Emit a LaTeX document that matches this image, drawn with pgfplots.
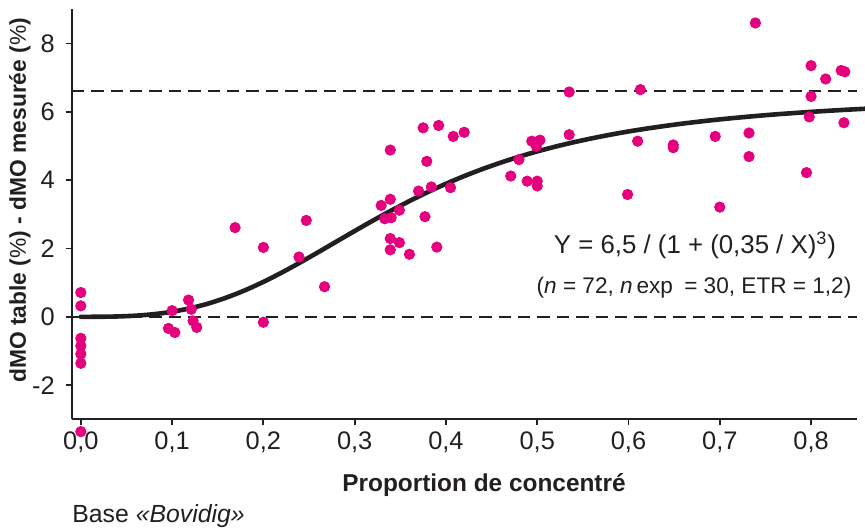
\documentclass[border=0pt]{standalone}
\usepackage{fontspec}
\setmainfont{Liberation Sans}
\usepackage{pgfplots}
\pgfplotsset{compat=1.18}
\usepackage{pgfplotstable}
\definecolor{dotpink}{HTML}{E5007D}
\definecolor{inkdark}{HTML}{231F20}

% measured points: proportion of concentrate vs. dMO difference
\pgfplotstableread{
x y
0 0.71
0 0.32
0 -0.63
0 -0.85
0 -1.09
0 -1.36
0 -3.36
0.100 0.18
0.096 -0.34
0.103 -0.46
0.118 0.49
0.121 0.22
0.123 -0.12
0.127 -0.31
0.169 2.61
0.200 2.03
0.200 -0.16
0.247 2.82
0.239 1.75
0.267 0.88
0.339 4.88
0.375 5.53
0.392 5.60
0.408 5.28
0.420 5.40
0.379 4.55
0.329 3.26
0.339 3.44
0.333 2.87
0.340 2.90
0.349 3.12
0.370 3.68
0.384 3.80
0.405 3.78
0.377 2.93
0.339 2.29
0.349 2.17
0.339 1.96
0.360 1.83
0.390 2.04
0.471 4.12
0.480 4.60
0.489 3.97
0.500 3.97
0.500 3.83
0.494 5.14
0.503 5.17
0.499 4.99
0.535 6.58
0.535 5.33
0.599 3.58
0.610 5.14
0.613 6.65
0.649 5.03
0.649 4.95
0.695 5.28
0.700 3.21
0.732 5.38
0.732 4.69
0.739 8.60
0.795 4.22
0.800 7.35
0.800 6.45
0.798 5.85
0.816 6.96
0.833 7.21
0.837 7.17
0.836 5.68
}\points

% fitted curve Y = 6,5 / (1 + (0,35/X)^3), tabulated
\pgfplotstableread{
x y
0.00 0.000
0.02 0.001
0.04 0.010
0.06 0.033
0.08 0.077
0.10 0.148
0.12 0.252
0.14 0.391
0.16 0.567
0.18 0.778
0.20 1.022
0.22 1.293
0.24 1.585
0.26 1.890
0.28 2.201
0.30 2.511
0.32 2.816
0.34 3.109
0.36 3.387
0.38 3.649
0.40 3.893
0.42 4.118
0.44 4.324
0.46 4.512
0.48 4.684
0.50 4.840
0.52 4.981
0.54 5.109
0.56 5.224
0.58 5.329
0.60 5.424
0.62 5.509
0.64 5.586
0.66 5.657
0.68 5.720
0.70 5.778
0.72 5.830
0.74 5.878
0.76 5.922
0.78 5.961
0.80 5.998
0.82 6.031
0.84 6.062
0.86 6.090
}\fit

\begin{document}
\begin{tikzpicture}
\begin{axis}[
    scale only axis,
    width=392.5pt, height=205pt,
    xmin=-0.01, xmax=0.85,
    ymin=-3, ymax=9,
    axis lines=left,
    axis line style={-, draw=inkdark, line width=0.9pt},
    tick style={draw=inkdark, line width=0.9pt},
    tick align=outside,
    major tick length=3pt,
    xtick={0,0.1,...,0.8},
    xticklabels={{0,0},{0,1},{0,2},{0,3},{0,4},{0,5},{0,6},{0,7},{0,8}},
    ytick={-2,0,2,4,6,8},
    yticklabels={-2,0,2,4,6,8},
    ticklabel style={font=\fontsize{12.7}{14}\selectfont, text=inkdark},
    xticklabel style={yshift=0.5pt},
    yticklabel style={xshift=-2pt},
    clip=false,
]
\addplot[inkdark, line width=0.9pt, dash pattern=on 6.2pt off 3.5pt]
    coordinates {(-0.01,0) (0.85,0)};
\addplot[inkdark, line width=0.9pt, dash pattern=on 6.2pt off 3.5pt]
    coordinates {(-0.01,6.6) (0.85,6.6)};
\addplot[only marks, mark=*, mark size=2.6pt, dotpink, mark options={draw=dotpink, fill=dotpink}]
    table {\points};
\addplot[inkdark, line width=2.3pt, smooth, line cap=round] table {\fit};
\end{axis}
\node[rotate=90, font=\bfseries\fontsize{11.4}{13}\selectfont, text=inkdark]
    at (-25.85pt,109.5pt) {dMO table ({\mdseries\%}) - dMO mesurée ({\mdseries\%})};
\node[font=\bfseries\fontsize{12.2}{14}\selectfont, text=inkdark]
    at (206.15pt,-33pt) {Proportion de concentré};
\node[anchor=west, inner sep=0pt, font=\fontsize{12.4}{14}\selectfont, text=inkdark]
    at (0.15pt,-48.5pt) {Base \textit{«Bovidig»}};
\node[font=\fontsize{12.9}{15}\selectfont, text=inkdark]
    at (311.65pt,87pt) {Y = 6,5 / (1 + (0,35 / X)\textsuperscript{3})};
\node[font=\fontsize{11.3}{13}\selectfont, text=inkdark]
    at (311.15pt,66pt) {(\textit{n} = 72, \textit{n}\,exp\enspace= 30, ETR = 1,2)};
\pgfresetboundingbox
\path[use as bounding box] (-35.85pt,-56pt) rectangle (396.65pt,209.65pt);
\end{tikzpicture}
\end{document}
